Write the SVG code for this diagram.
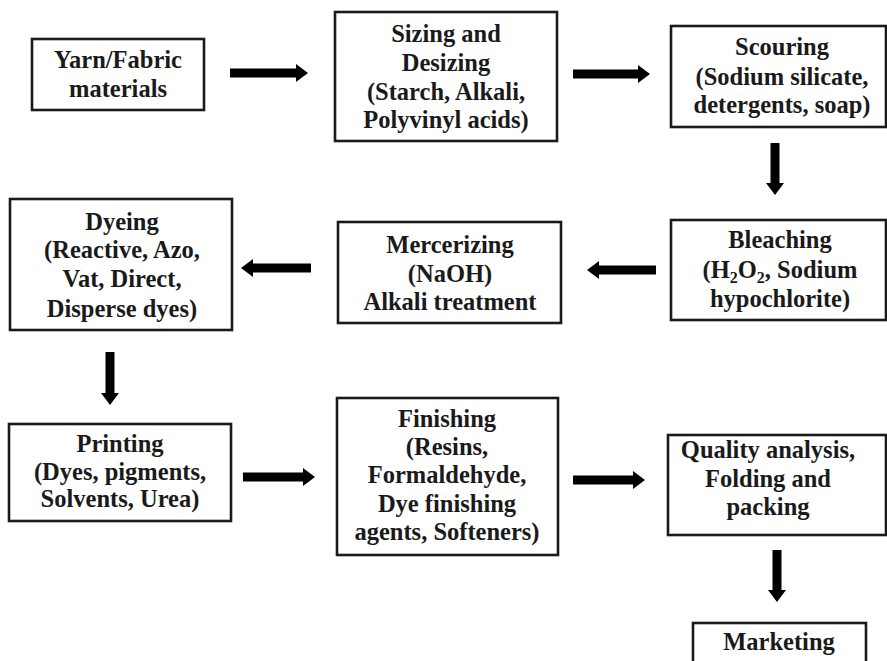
<svg xmlns="http://www.w3.org/2000/svg" width="887" height="661" viewBox="0 0 887 661">
<style>
.box{fill:#fff;stroke:#1a1a1a;stroke-width:2.6}
.t{font-family:'Liberation Serif','Times New Roman','DejaVu Serif',serif;font-weight:bold;font-size:24.5px;fill:#1a1a1a;text-anchor:middle}
.c{stroke:#000;stroke-width:9;fill:none;marker-end:url(#ah)}
</style>
<defs>
<marker id="ah" markerUnits="userSpaceOnUse" markerWidth="14" markerHeight="18" refX="1" refY="9" orient="auto">
<path d="M0,0 L12,9 L0,18 z" fill="#000"/>
</marker>
</defs>
<rect width="887" height="661" fill="#fff"/>
<g id="n-yarn"><rect class="box" x="32" y="39" width="172" height="71"/>
<text class="t" x="118" y="68">Yarn/Fabric</text><text class="t" x="118" y="97">materials</text></g>
<g id="n-sizing"><rect class="box" x="335" y="12" width="222" height="129"/>
<text class="t" x="446" y="42">Sizing and</text><text class="t" x="446" y="71">Desizing</text><text class="t" x="446" y="100">(Starch, Alkali,</text><text class="t" x="446" y="128">Polyvinyl acids)</text></g>
<g id="n-scouring"><rect class="box" x="671" y="26" width="215" height="101"/>
<text class="t" x="782" y="55">Scouring</text><text class="t" x="782" y="85">(Sodium silicate,</text><text class="t" x="782" y="113">detergents, soap)</text></g>
<g id="n-bleaching"><rect class="box" x="671" y="220" width="215" height="100"/>
<text class="t" x="780" y="248">Bleaching</text><text class="t" x="780" y="278">(H<tspan font-size="16" dy="5">2</tspan><tspan dy="-5">O</tspan><tspan font-size="16" dy="5">2</tspan><tspan dy="-5">, Sodium</tspan></text><text class="t" x="780" y="307">hypochlorite)</text></g>
<g id="n-mercerizing"><rect class="box" x="338" y="222" width="223" height="101"/>
<text class="t" x="450" y="253">Mercerizing</text><text class="t" x="450" y="282">(NaOH)</text><text class="t" x="450" y="310">Alkali treatment</text></g>
<g id="n-dyeing"><rect class="box" x="10" y="199" width="222" height="131"/>
<text class="t" x="122" y="230">Dyeing</text><text class="t" x="122" y="258">(Reactive, Azo,</text><text class="t" x="122" y="287">Vat, Direct,</text><text class="t" x="122" y="317">Disperse dyes)</text></g>
<g id="n-printing"><rect class="box" x="9" y="424" width="222" height="97"/>
<text class="t" x="120" y="452">Printing</text><text class="t" x="120" y="480">(Dyes, pigments,</text><text class="t" x="120" y="507">Solvents, Urea)</text></g>
<g id="n-finishing"><rect class="box" x="337" y="398" width="221" height="157"/>
<text class="t" x="447" y="427">Finishing</text><text class="t" x="447" y="455">(Resins,</text><text class="t" x="447" y="483">Formaldehyde,</text><text class="t" x="447" y="512">Dye finishing</text><text class="t" x="447" y="540">agents, Softeners)</text></g>
<g id="n-quality"><rect class="box" x="668" y="435" width="218" height="100"/>
<text class="t" x="768" y="458">Quality analysis,</text><text class="t" x="768" y="487">Folding and</text><text class="t" x="768" y="515">packing</text></g>
<g id="n-marketing"><rect class="box" x="693" y="623" width="173" height="50"/>
<text class="t" x="779" y="650">Marketing</text></g>
<g id="connectors">
<line class="c" x1="230" y1="73" x2="297" y2="73"/>
<line class="c" x1="573" y1="74" x2="639" y2="74"/>
<line class="c" x1="775" y1="143" x2="775" y2="184"/>
<line class="c" x1="656" y1="270" x2="598" y2="270"/>
<line class="c" x1="311" y1="268" x2="252" y2="268"/>
<line class="c" x1="110" y1="352" x2="110" y2="394"/>
<line class="c" x1="243" y1="477" x2="304" y2="477"/>
<line class="c" x1="573" y1="480" x2="634" y2="480"/>
<line class="c" x1="777" y1="550" x2="777" y2="591"/>
</g>
</svg>
